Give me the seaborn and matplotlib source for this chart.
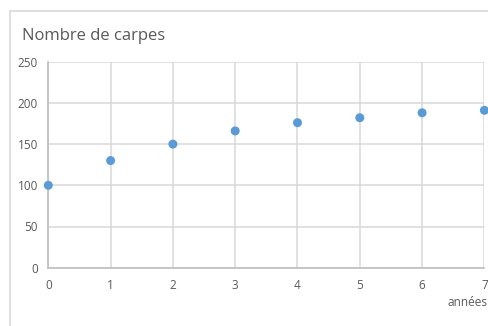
import matplotlib
matplotlib.use("Agg")
import matplotlib.pyplot as plt
from matplotlib.lines import Line2D
import seaborn as sns
import pandas as pd

# Carp population by year
annees = [0, 1, 2, 3, 4, 5, 6, 7]
carpes = [100, 130, 150, 166, 176, 182, 188, 191]
y_ticks = [0, 50, 100, 150, 200, 250]

sns.set_theme(style="white")
plt.rcParams["font.family"] = ["Open Sans", "DejaVu Sans"]

TEXT = "#595959"
GRID = "#D9D9D9"
BLUE = "#5B9BD5"

df = pd.DataFrame({"annees": annees, "carpes": carpes})

fig = plt.figure(figsize=(4.89, 3.26), dpi=100)
ax = fig.add_axes([48.3 / 489, 1 - 267.7 / 326, (484.4 - 48.3) / 489, (267.7 - 61.7) / 326])

sns.scatterplot(data=df, x="annees", y="carpes", ax=ax, color=BLUE,
                s=42, edgecolor="none", clip_on=False, zorder=5)

ax.set_xlim(0, 7)
ax.set_ylim(0, 250)
ax.set_xticks(annees)
ax.set_yticks(y_ticks)
ax.grid(True, color=GRID, linewidth=1.1)
ax.set_axisbelow(True)
ax.tick_params(axis="both", length=0, labelsize=8.5, labelcolor=TEXT)
ax.tick_params(axis="x", pad=8)
ax.tick_params(axis="y", pad=7.5)
ax.set_xlabel("")
ax.set_ylabel("")

for side in ["top", "right"]:
    ax.spines[side].set_visible(False)
for side in ["left", "bottom"]:
    ax.spines[side].set_color("#BFBFBF")
    ax.spines[side].set_linewidth(1.2)

# Outer chart border (top and left edges)
fig.add_artist(Line2D([9.5 / 489, 9.5 / 489], [0, 1 - 10.5 / 326],
                      transform=fig.transFigure, color=GRID, linewidth=1.2))
fig.add_artist(Line2D([9.5 / 489, 1], [1 - 10.5 / 326, 1 - 10.5 / 326],
                      transform=fig.transFigure, color=GRID, linewidth=1.2))

fig.text(22 / 489, 1 - 36 / 326, "Nombre de carpes", fontsize=12,
         color=TEXT, ha="left", va="center")
fig.text(488 / 489, 1 - 303 / 326, "années", fontsize=8.5,
         color=TEXT, ha="right", va="center")

fig.savefig("out.png", dpi=100)
